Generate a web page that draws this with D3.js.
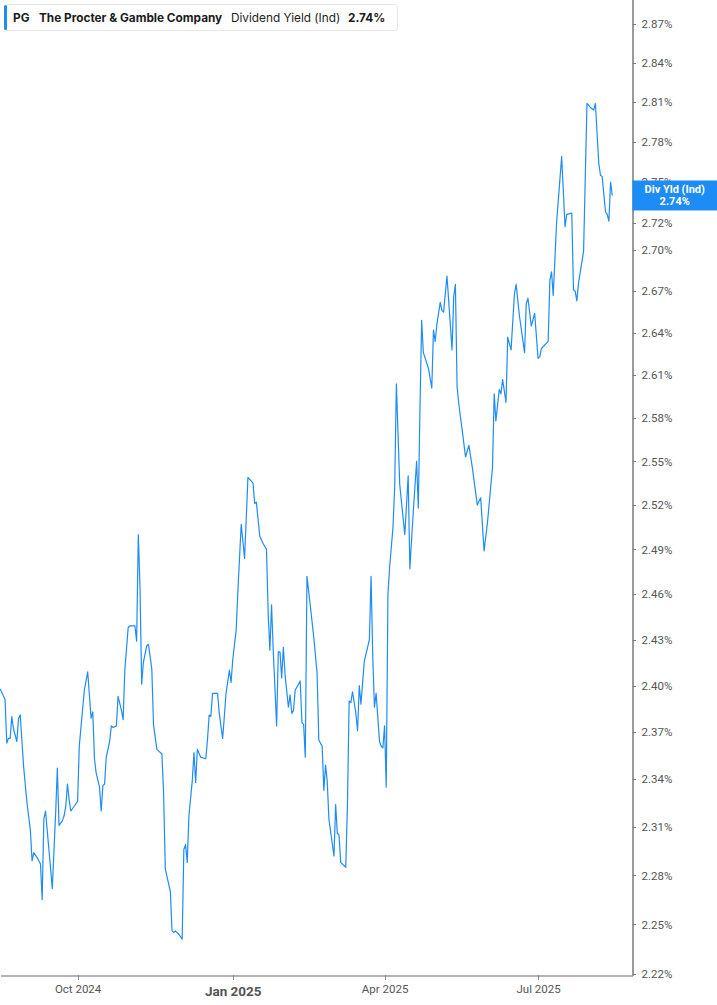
<!DOCTYPE html>
<html>
<head>
<meta charset="utf-8">
<script src="https://cdn.jsdelivr.net/npm/d3@7"></script>
<style>
  html, body { margin: 0; padding: 0; background: #fff; }
  svg { display: block; }
  .axis path, .axis line { shape-rendering: crispEdges; }
</style>
</head>
<body>
<svg id="chart" width="717" height="1005"></svg>
<script>
// PG dividend yield (Ind)
var dates = [
  "2024-08-16","2024-08-19","2024-08-20","2024-08-21","2024-08-22","2024-08-23","2024-08-24","2024-08-26","2024-08-27","2024-08-28",
  "2024-08-30","2024-09-01","2024-09-03","2024-09-04","2024-09-05","2024-09-07","2024-09-09","2024-09-10","2024-09-11","2024-09-12",
  "2024-09-14","2024-09-16","2024-09-18","2024-09-19","2024-09-20","2024-09-22","2024-09-23","2024-09-24","2024-09-25","2024-09-26",
  "2024-09-27","2024-09-29","2024-10-01","2024-10-02","2024-10-04","2024-10-05","2024-10-07","2024-10-09","2024-10-10","2024-10-11",
  "2024-10-12","2024-10-14","2024-10-15","2024-10-16","2024-10-17","2024-10-18","2024-10-20","2024-10-21","2024-10-22","2024-10-24",
  "2024-10-25","2024-10-27","2024-10-28","2024-10-29","2024-10-31","2024-11-01","2024-11-04","2024-11-05","2024-11-06","2024-11-07",
  "2024-11-08","2024-11-09","2024-11-11","2024-11-12","2024-11-14","2024-11-15","2024-11-17","2024-11-18","2024-11-20","2024-11-21",
  "2024-11-22","2024-11-25","2024-11-26","2024-11-27","2024-11-28","2024-11-30","2024-12-02","2024-12-03","2024-12-04","2024-12-05",
  "2024-12-06","2024-12-08","2024-12-09","2024-12-10","2024-12-11","2024-12-13","2024-12-16","2024-12-17","2024-12-18","2024-12-19",
  "2024-12-20","2024-12-23","2024-12-24","2024-12-26","2024-12-27","2024-12-28","2024-12-30","2024-12-31","2025-01-01","2025-01-03",
  "2025-01-04","2025-01-06","2025-01-08","2025-01-09","2025-01-10","2025-01-13","2025-01-14","2025-01-15","2025-01-17","2025-01-19",
  "2025-01-21","2025-01-22","2025-01-23","2025-01-24","2025-01-25","2025-01-27","2025-01-28","2025-01-29","2025-01-30","2025-01-31",
  "2025-02-01","2025-02-03","2025-02-04","2025-02-05","2025-02-06","2025-02-07","2025-02-10","2025-02-11","2025-02-12","2025-02-13",
  "2025-02-14","2025-02-16","2025-02-18","2025-02-20","2025-02-21","2025-02-23","2025-02-24","2025-02-25","2025-02-26","2025-02-27",
  "2025-03-02","2025-03-03","2025-03-04","2025-03-05","2025-03-06","2025-03-09","2025-03-10","2025-03-11","2025-03-12","2025-03-13",
  "2025-03-15","2025-03-16","2025-03-17","2025-03-18","2025-03-20","2025-03-23","2025-03-24","2025-03-25","2025-03-26","2025-03-27",
  "2025-03-29","2025-03-30","2025-03-31","2025-04-01","2025-04-02","2025-04-03","2025-04-04","2025-04-06","2025-04-07","2025-04-08",
  "2025-04-10","2025-04-13","2025-04-15","2025-04-16","2025-04-18","2025-04-20","2025-04-21","2025-04-22","2025-04-23","2025-04-24",
  "2025-04-27","2025-04-29","2025-04-30","2025-05-01","2025-05-02","2025-05-04","2025-05-05","2025-05-06","2025-05-08","2025-05-10",
  "2025-05-11","2025-05-12","2025-05-13","2025-05-14","2025-05-15","2025-05-17","2025-05-19","2025-05-21","2025-05-23","2025-05-26",
  "2025-05-28","2025-05-30","2025-06-01","2025-06-04","2025-06-05","2025-06-06","2025-06-08","2025-06-09","2025-06-10","2025-06-12",
  "2025-06-13","2025-06-15","2025-06-17","2025-06-18","2025-06-20","2025-06-23","2025-06-24","2025-06-25","2025-06-27","2025-06-29",
  "2025-07-01","2025-07-02","2025-07-03","2025-07-07","2025-07-08","2025-07-09","2025-07-10","2025-07-12","2025-07-15","2025-07-17",
  "2025-07-18","2025-07-21","2025-07-22","2025-07-23","2025-07-24","2025-07-25","2025-07-28","2025-07-30","2025-08-01","2025-08-03",
  "2025-08-04","2025-08-06","2025-08-07","2025-08-08","2025-08-10","2025-08-11","2025-08-12","2025-08-13","2025-08-14"
];
var yields = [
  2.398,2.391,2.363,2.366,2.366,2.380,2.372,2.364,2.379,2.381,
  2.348,2.325,2.308,2.289,2.294,2.291,2.287,2.265,2.315,2.320,
  2.296,2.272,2.319,2.347,2.311,2.314,2.317,2.323,2.337,2.327,
  2.320,2.323,2.326,2.361,2.385,2.397,2.409,2.379,2.383,2.353,
  2.344,2.335,2.320,2.336,2.337,2.354,2.364,2.374,2.373,2.374,
  2.393,2.384,2.378,2.410,2.438,2.439,2.439,2.429,2.500,2.465,
  2.401,2.415,2.426,2.427,2.411,2.375,2.359,2.358,2.356,2.331,
  2.284,2.270,2.246,2.245,2.246,2.244,2.241,2.296,2.299,2.288,
  2.317,2.339,2.357,2.338,2.359,2.354,2.353,2.365,2.381,2.380,
  2.395,2.395,2.382,2.366,2.380,2.395,2.410,2.402,2.417,2.436,
  2.461,2.507,2.484,2.511,2.539,2.535,2.521,2.522,2.499,2.494,
  2.490,2.447,2.423,2.453,2.423,2.374,2.422,2.422,2.405,2.425,
  2.407,2.386,2.394,2.382,2.384,2.397,2.403,2.376,2.375,2.354,
  2.472,2.452,2.432,2.408,2.365,2.361,2.333,2.349,2.339,2.315,
  2.292,2.324,2.306,2.305,2.288,2.285,2.324,2.390,2.389,2.396,
  2.382,2.371,2.400,2.388,2.416,2.430,2.472,2.419,2.386,2.395,
  2.364,2.361,2.360,2.374,2.335,2.460,2.478,2.505,2.532,2.604,
  2.534,2.500,2.540,2.477,2.515,2.550,2.518,2.587,2.649,2.626,
  2.615,2.601,2.642,2.634,2.646,2.662,2.656,2.655,2.681,2.646,
  2.628,2.666,2.675,2.602,2.590,2.572,2.553,2.561,2.546,2.520,
  2.525,2.489,2.508,2.546,2.597,2.578,2.600,2.597,2.607,2.591,
  2.637,2.628,2.668,2.675,2.652,2.626,2.661,2.665,2.645,2.654,
  2.622,2.623,2.629,2.634,2.678,2.684,2.667,2.720,2.769,2.717,
  2.726,2.727,2.671,2.670,2.663,2.676,2.699,2.809,2.806,2.804,
  2.809,2.764,2.755,2.754,2.728,2.726,2.721,2.750,2.740
];

var yTicks = [2.22,2.25,2.28,2.31,2.34,2.37,2.40,2.43,2.46,2.49,2.52,2.55,2.58,2.61,2.64,2.67,2.70,2.72,2.75,2.78,2.81,2.84,2.87];
var xTickDates = ["2024-10-01","2025-01-01","2025-04-01","2025-07-01"];
var xTickLabels = ["Oct 2024","Jan 2025","Apr 2025","Jul 2025"];
var xDomain = ["2024-08-16","2025-08-26"];

var ticker = "PG";
var company = "The Procter & Gamble Company";
var metric = "Dividend Yield (Ind)";

var parse = d3.utcParse("%Y-%m-%d");
var data = dates.map(function(d, i) { return {date: parse(d), value: yields[i]}; });
var last = data[data.length - 1];

var blue = "#1e8cf5";
var plotRight = 632.5, plotBottom = 975;

var svg = d3.select("#chart");

var x = d3.scaleUtc()
  .domain(xDomain.map(parse))
  .range([0, plotRight]);
var y = d3.scaleLog()
  .domain([2.22, 2.87])
  .range([plotBottom - 1, 24]);

// line
var line = d3.line()
  .x(function(d) { return x(d.date); })
  .y(function(d) { return y(d.value); });

svg.append("path")
  .datum(data)
  .attr("fill", "none")
  .attr("stroke", blue)
  .attr("stroke-width", 1.2)
  .attr("stroke-linejoin", "round")
  .attr("d", line);

// x axis
var xAxis = svg.append("g")
  .attr("class", "axis")
  .attr("transform", "translate(0," + plotBottom + ")")
  .call(d3.axisBottom(x)
    .tickValues(xTickDates.map(parse))
    .tickSize(5)
    .tickSizeOuter(0)
    .tickFormat(function(d, i) { return xTickLabels[i]; }));
xAxis.select(".domain").attr("stroke", "#b3b3b3").attr("stroke-width", 2);
xAxis.selectAll(".tick line").attr("stroke", "#8a8a8a");
xAxis.selectAll(".tick text")
  .attr("dy", 0)
  .attr("y", function(d, i) { return i == 1 ? 21 : 18; })
  .attr("fill", "#555")
  .style("font-family", "Roboto, 'Liberation Sans', sans-serif")
  .style("font-size", function(d, i) { return i == 1 ? "13.5px" : "11.5px"; })
  .style("font-weight", function(d, i) { return i == 1 ? "700" : "400"; });

// y axis on the right
var yAxis = svg.append("g")
  .attr("class", "axis")
  .attr("transform", "translate(" + plotRight + ",0)")
  .call(d3.axisRight(y)
    .tickValues(yTicks)
    .tickSize(3)
    .tickSizeOuter(0)
    .tickPadding(6)
    .tickFormat(function(d) { return d.toFixed(2) + "%"; }));
yAxis.select(".domain")
  .attr("d", "M0.5,0V" + (plotBottom + 1))
  .attr("stroke", "#9a9a9a")
  .attr("stroke-width", 1.5);
yAxis.selectAll(".tick line").attr("stroke", "#777");
yAxis.selectAll(".tick text")
  .attr("fill", "#555")
  .style("font-family", "Roboto, 'Liberation Sans', sans-serif")
  .style("font-size", "11.5px");

// last value tag (sits over the 2.75% label, as in the original)
var tag = svg.append("g")
  .attr("transform", "translate(" + plotRight + "," + (y(last.value) - 15) + ")");
tag.append("rect")
  .attr("width", 717 - plotRight)
  .attr("height", 30)
  .attr("fill", blue);
tag.append("text")
  .attr("x", (717 - plotRight) / 2)
  .attr("y", 13)
  .attr("text-anchor", "middle")
  .attr("fill", "#fff")
  .style("font-family", "Roboto, 'Liberation Sans', sans-serif")
  .style("font-size", "11px")
  .style("font-weight", "700")
  .text("Div Yld (Ind)");
tag.append("text")
  .attr("x", (717 - plotRight) / 2)
  .attr("y", 24.5)
  .attr("text-anchor", "middle")
  .attr("fill", "#fff")
  .style("font-family", "Roboto, 'Liberation Sans', sans-serif")
  .style("font-size", "11px")
  .style("font-weight", "700")
  .text(last.value.toFixed(2) + "%");

// header legend box
var head = svg.append("g");
head.append("rect")
  .attr("x", 4.5).attr("y", 4.5)
  .attr("width", 393).attr("height", 26)
  .attr("rx", 3)
  .attr("fill", "#fff")
  .attr("stroke", "#e6e6e6");
head.append("rect")
  .attr("x", 4).attr("y", 5)
  .attr("width", 3).attr("height", 25)
  .attr("rx", 1.5)
  .attr("fill", blue);
var ht = head.append("text")
  .attr("y", 21.5)
  .attr("fill", "#1c1c1c")
  .style("font-family", "Inter, 'Noto Sans', sans-serif")
  .style("font-size", "11.8px");
ht.append("tspan").attr("x", 13).style("font-weight", "700").text(ticker);
ht.append("tspan").attr("x", 39).style("font-weight", "700").text(company);
ht.append("tspan").attr("x", 231).style("font-weight", "400").text(metric);
ht.append("tspan").attr("x", 348).style("font-weight", "700").text(last.value.toFixed(2) + "%");
</script>
</body>
</html>
